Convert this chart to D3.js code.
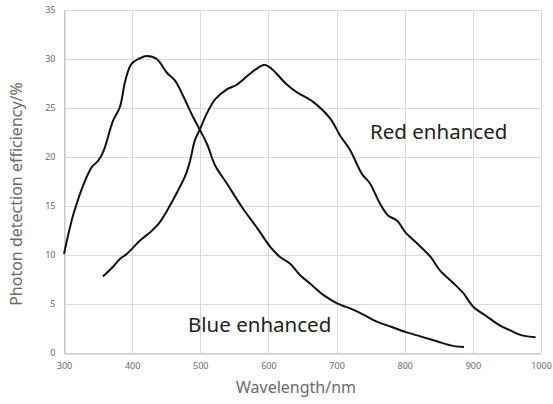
<!DOCTYPE html>
<html>
<head>
<meta charset="utf-8">
<script src="https://cdn.jsdelivr.net/npm/d3@7"></script>
<style>
  body { margin: 0; background: #fff; }
</style>
</head>
<body>
<div id="chart"></div>
<script>
const xTicks = [300, 400, 500, 600, 700, 800, 900, 1000];
const yTicks = [0, 5, 10, 15, 20, 25, 30, 35];

// blue enhanced: [wavelength, pde]
const blueX = [300, 314, 331, 341, 350, 358, 372, 382, 390, 399, 412, 421, 436, 451, 463, 475, 490, 500, 510, 522, 539, 561, 583, 603, 617, 632, 647, 661, 681, 700, 725, 740, 759, 779, 803, 823, 847, 872, 887];
const blueY = [10.1, 14.2, 17.6, 19.0, 19.6, 20.6, 23.7, 25.1, 27.8, 29.5, 30.1, 30.3, 30.0, 28.6, 27.8, 26.2, 24.0, 22.7, 21.3, 19.1, 17.3, 14.9, 12.8, 10.8, 9.8, 9.1, 7.9, 7.1, 5.9, 5.1, 4.4, 3.9, 3.2, 2.7, 2.1, 1.7, 1.2, 0.7, 0.6];

// red enhanced
const redX = [357, 372, 382, 392, 412, 426, 439, 451, 466, 478, 485, 492, 500, 510, 522, 539, 554, 573, 593, 603, 627, 642, 666, 691, 705, 720, 737, 749, 764, 776, 789, 801, 818, 838, 852, 872, 886, 901, 921, 940, 955, 972, 992];
const redY = [7.8, 8.8, 9.6, 10.1, 11.5, 12.3, 13.2, 14.5, 16.4, 18.1, 19.6, 21.7, 22.9, 24.5, 25.9, 26.9, 27.4, 28.5, 29.4, 29.1, 27.4, 26.6, 25.6, 23.9, 22.2, 20.7, 18.3, 17.3, 15.2, 14.0, 13.5, 12.3, 11.2, 9.8, 8.4, 7.1, 6.1, 4.7, 3.7, 2.8, 2.3, 1.8, 1.6];

const width = 553, height = 404;
const margin = {top: 10, right: 12, bottom: 51, left: 64};

const svg = d3.select("#chart").append("svg")
    .attr("width", width)
    .attr("height", height)
    .attr("font-family", "'Noto Sans', sans-serif");

const x = d3.scaleLinear().domain([300, 1000]).range([margin.left, width - margin.right]);
const y = d3.scaleLinear().domain([0, 35]).range([height - margin.bottom, margin.top]);

// grid
svg.append("g")
    .attr("stroke", "#d9d9d9")
    .attr("stroke-width", 1)
    .selectAll("line.h")
    .data(yTicks)
    .enter().append("line")
    .attr("x1", x(300)).attr("x2", x(1000))
    .attr("y1", d => Math.round(y(d)) + 0.5)
    .attr("y2", d => Math.round(y(d)) + 0.5);

svg.append("g")
    .attr("stroke", "#d9d9d9")
    .attr("stroke-width", 1)
    .selectAll("line.v")
    .data(xTicks)
    .enter().append("line")
    .attr("y1", y(0)).attr("y2", y(35))
    .attr("x1", d => Math.round(x(d)) + 0.5)
    .attr("x2", d => Math.round(x(d)) + 0.5);

// axes
const xAxis = svg.append("g")
    .attr("transform", `translate(0,${Math.round(y(0)) + 0.5})`)
    .call(d3.axisBottom(x).tickValues(xTicks).tickFormat(d3.format("d")).tickSize(0).tickPadding(9));
const yAxis = svg.append("g")
    .attr("transform", `translate(${Math.round(x(300)) + 0.5},0)`)
    .call(d3.axisLeft(y).tickValues(yTicks).tickSize(0).tickPadding(9));

[xAxis, yAxis].forEach(a => {
    a.select(".domain").attr("stroke", "#bfbfbf");
    a.selectAll("text")
        .attr("fill", "#6b6b6b")
        .attr("font-size", 9)
        .attr("font-family", "'Noto Sans', sans-serif");
});

// curves
const line = d3.line()
    .x(d => x(d[0]))
    .y(d => y(d[1]))
    .curve(d3.curveCatmullRom.alpha(0.5));

svg.append("path")
    .datum(d3.zip(blueX, blueY))
    .attr("fill", "none")
    .attr("stroke", "#111")
    .attr("stroke-width", 2)
    .attr("d", line);

svg.append("path")
    .datum(d3.zip(redX, redY))
    .attr("fill", "none")
    .attr("stroke", "#111")
    .attr("stroke-width", 2)
    .attr("d", line);

// labels
svg.append("text")
    .attr("x", 370).attr("y", 139)
    .attr("font-size", 20.5)
    .attr("fill", "#222")
    .text("Red enhanced");

svg.append("text")
    .attr("x", 188).attr("y", 332)
    .attr("font-size", 20.5)
    .attr("fill", "#222")
    .text("Blue enhanced");

// axis titles
svg.append("text")
    .attr("x", 296).attr("y", 393)
    .attr("text-anchor", "middle")
    .attr("font-size", 16)
    .attr("fill", "#6b6b6b")
    .text("Wavelength/nm");

svg.append("text")
    .attr("transform", "translate(22,194) rotate(-90)")
    .attr("text-anchor", "middle")
    .attr("font-size", 16)
    .attr("fill", "#6b6b6b")
    .text("Photon detection efficiency/%");
</script>
</body>
</html>
